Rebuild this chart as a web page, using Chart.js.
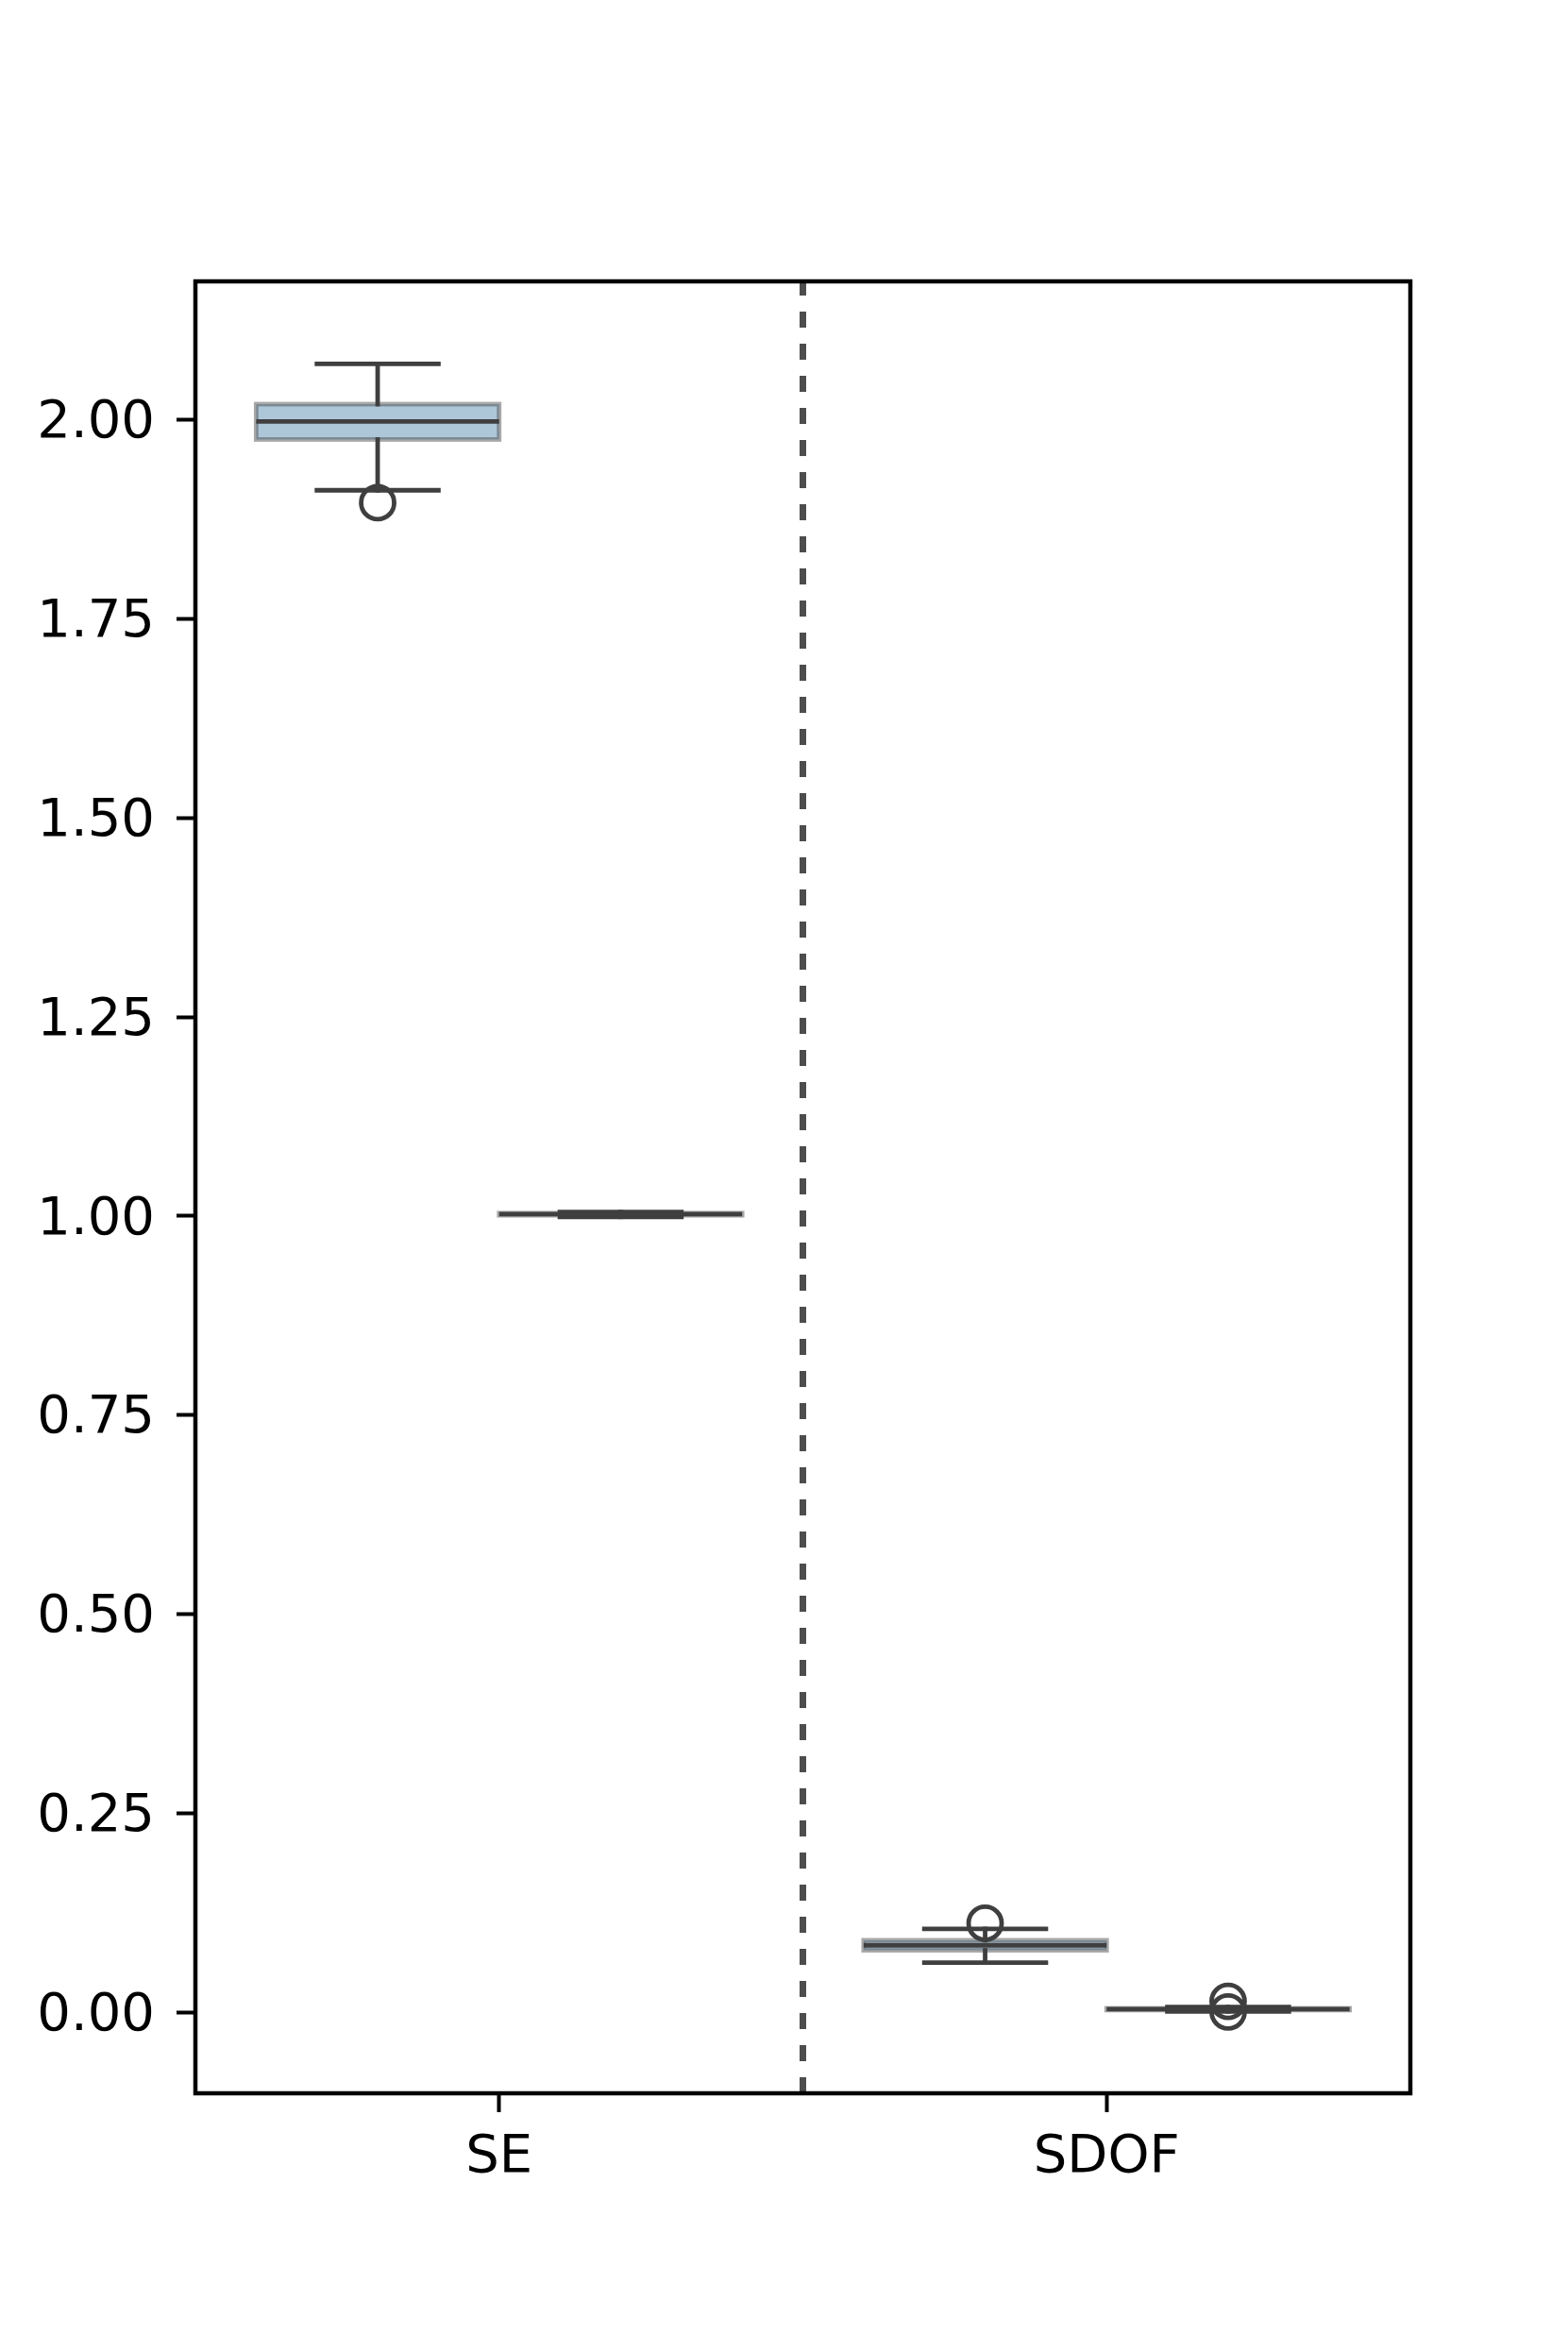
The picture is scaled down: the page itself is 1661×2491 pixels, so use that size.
<!DOCTYPE html>
<html><head><meta charset="utf-8">
<script src="https://cdn.jsdelivr.net/npm/chart.js@4.4.0/dist/chart.umd.min.js"></script>
<style>html,body{margin:0;padding:0;background:#fff;} #wrap{width:1661px;height:2491px;}</style>
</head><body><div id="wrap"><canvas id="c" width="1661" height="2491"></canvas></div>
<script>
// ---- data ----
const categories = ['SE', 'SDOF'];
// first hue (blue boxes)
const hueAWhiskerLow  = [1.9116, 0.0625];
const hueAQ1          = [1.9754, 0.0779];
const hueAMedian      = [1.9980, 0.0842];
const hueAQ3          = [2.0198, 0.0905];
const hueAWhiskerHigh = [2.0703, 0.1047];
const hueAOutliers    = [[1.8960], [0.1119]];
// second hue (flat boxes)
const hueBWhiskerLow  = [0.9991, 0.0012];
const hueBQ1          = [1.0010, 0.0028];
const hueBMedian      = [1.0024, 0.0039];
const hueBQ3          = [1.0038, 0.0050];
const hueBWhiskerHigh = [1.0050, 0.0066];
const hueBOutliers    = [[], [0.0138, 0.0005]];
const yTickValues = [0, 0.25, 0.5, 0.75, 1.0, 1.25, 1.5, 1.75, 2.0];
const yLimits = [-0.1017, 2.174];
const dividerAt = 0.5;

// ---- styling / layout ----
const hueOffsets = [-0.2, 0.2];
const boxWidth = 0.4;
const capWidth = 0.2;
const faceColors = ['rgba(50,116,161,0.4)', 'rgba(225,129,44,0.4)'];
const edgeColor = 'rgba(63,63,63,0.45)';
const lineColor = '#3f3f3f';
const LW = 4.8;
const FONT = {family: 'DejaVu Sans', size: 56};

const hueSeries = [
  {lo: hueAWhiskerLow, q1: hueAQ1, med: hueAMedian, q3: hueAQ3, hi: hueAWhiskerHigh, out: hueAOutliers},
  {lo: hueBWhiskerLow, q1: hueBQ1, med: hueBMedian, q3: hueBQ3, hi: hueBWhiskerHigh, out: hueBOutliers}
];

const outlierPoints = [];
hueSeries.forEach((s, h) => categories.forEach((c, i) => {
  s.out[i].forEach(v => outlierPoints.push({x: i + hueOffsets[h], y: v}));
}));

const boxPlugin = {
  id: 'boxes',
  beforeDatasetsDraw(chart) {
    const {ctx, chartArea: a, scales: {x, y}} = chart;
    ctx.save();
    ctx.beginPath();
    ctx.rect(a.left, a.top, a.right - a.left, a.bottom - a.top);
    ctx.clip();
    const seg = (x1, y1, x2, y2) => { ctx.beginPath(); ctx.moveTo(x1, y1); ctx.lineTo(x2, y2); ctx.stroke(); };
    hueSeries.forEach((s, h) => {
      categories.forEach((c, i) => {
        const cx = i + hueOffsets[h];
        const xl = x.getPixelForValue(cx - boxWidth / 2);
        const xr = x.getPixelForValue(cx + boxWidth / 2);
        const xc = x.getPixelForValue(cx);
        const cl = x.getPixelForValue(cx - capWidth / 2);
        const cr = x.getPixelForValue(cx + capWidth / 2);
        const ylo = y.getPixelForValue(s.lo[i]);
        const yq1 = y.getPixelForValue(s.q1[i]);
        const ymd = y.getPixelForValue(s.med[i]);
        const yq3 = y.getPixelForValue(s.q3[i]);
        const yhi = y.getPixelForValue(s.hi[i]);
        ctx.fillStyle = faceColors[h];
        ctx.fillRect(xl, yq3, xr - xl, yq1 - yq3);
        ctx.strokeStyle = edgeColor;
        ctx.lineWidth = LW;
        ctx.lineJoin = 'miter';
        ctx.strokeRect(xl, yq3, xr - xl, yq1 - yq3);
        ctx.strokeStyle = lineColor;
        ctx.lineCap = 'square';
        seg(xc, yq1, xc, ylo);
        seg(xc, yq3, xc, yhi);
        seg(cl, ylo, cr, ylo);
        seg(cl, yhi, cr, yhi);
        ctx.lineCap = 'butt';
        seg(xl, ymd, xr, ymd);
      });
    });
    ctx.restore();
  },
  afterDatasetsDraw(chart) {
    const {ctx, chartArea: a} = chart;
    ctx.save();
    ctx.strokeStyle = '#000';
    ctx.lineWidth = 4.5;
    ctx.lineJoin = 'miter';
    ctx.strokeRect(a.left, a.top, a.right - a.left, a.bottom - a.top);
    ctx.restore();
  }
};

new Chart(document.getElementById('c'), {
  type: 'scatter',
  data: {
    datasets: [
      {
        type: 'line',
        data: [{x: dividerAt, y: yLimits[0]}, {x: dividerAt, y: yLimits[1]}],
        borderColor: '#4d4d4d',
        borderWidth: 7,
        borderDash: [17, 17],
        pointRadius: 0,
        showLine: true,
        fill: false
      },
      {
        data: outlierPoints,
        pointStyle: 'circle',
        pointRadius: 17.5,
        pointBorderWidth: LW,
        borderColor: lineColor,
        backgroundColor: 'rgba(0,0,0,0)',
        pointBackgroundColor: 'rgba(0,0,0,0)',
        pointBorderColor: lineColor
      }
    ]
  },
  options: {
    responsive: false,
    devicePixelRatio: 1,
    animation: false,
    events: [],
    layout: {padding: {left: 0, top: 298, right: 167, bottom: 124}},
    plugins: {legend: {display: false}, tooltip: {enabled: false}},
    scales: {
      x: {
        type: 'linear',
        min: -0.5, max: 1.5,
        afterBuildTicks: s => { s.ticks = categories.map((c, i) => ({value: i})); },
        afterFit: s => { s.height = 150; },
        ticks: {
          callback: v => categories[v],
          font: FONT, color: '#000', padding: 15, maxRotation: 0, autoSkip: false
        },
        grid: {drawOnChartArea: false, drawTicks: true, tickLength: 20, tickWidth: 4, tickColor: '#000'},
        border: {display: false}
      },
      y: {
        type: 'linear',
        min: yLimits[0], max: yLimits[1],
        afterBuildTicks: s => { s.ticks = yTickValues.map(v => ({value: v})); },
        afterFit: s => { s.width = 207; },
        ticks: {
          callback: v => Number(v).toFixed(2),
          font: FONT, color: '#000', padding: 23, autoSkip: false, labelOffset: 4
        },
        grid: {drawOnChartArea: false, drawTicks: true, tickLength: 20, tickWidth: 4, tickColor: '#000'},
        border: {display: false}
      }
    }
  },
  plugins: [boxPlugin]
});
</script>
</body></html>
